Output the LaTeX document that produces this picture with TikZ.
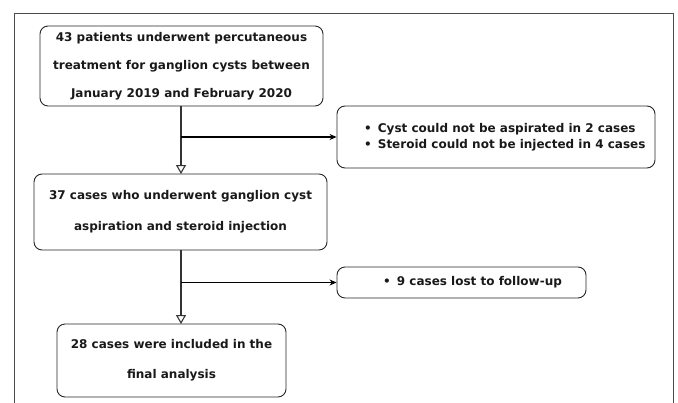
\documentclass[tikz,border=0pt]{standalone}
\usepackage{fontspec}
\setmainfont{DejaVu Sans}
\usetikzlibrary{arrows.meta}
\begin{document}
\begin{tikzpicture}[x=1pt,y=-1pt,
  box/.style={draw=black!85, line width=0.9pt, rounded corners=8pt, inner sep=0pt},
  txt/.style={font=\bfseries\fontsize{12}{28}\selectfont, align=center, inner sep=0pt, text=black!90},
  ltxt/.style={font=\bfseries\fontsize{12}{16}\selectfont, align=left, inner sep=0pt, text=black!90},
  flow/.style={draw=black!80, line width=1.1pt, -{Triangle[open, length=9pt, width=10pt]}},
  side/.style={draw=black, line width=1.1pt, -{Stealth[length=7pt, width=6pt]}}]
\useasboundingbox (0,0) rectangle (678,402);
% outer frame (open at the bottom)
\draw[black!70, line width=0.9pt] (14,410) -- (14,13) -- (673,13) -- (673,410);
% boxes
\node[box, minimum width=283pt, minimum height=80pt] (b1) at (181.5,66) {};
\node[txt] (t1) at (b1.center) {43 patients underwent percutaneous\\treatment for ganglion cysts between\\January 2019 and February 2020};
\node[box, minimum width=293pt, minimum height=76pt] (b2) at (180.5,212) {};
\node[txt, font=\bfseries\fontsize{12}{31}\selectfont] (t2) at (b2.center) {37 cases who underwent ganglion cyst\\aspiration and steroid injection};
\node[box, minimum width=229pt, minimum height=73pt] (b3) at (171.5,360.5) {};
\node[txt, font=\bfseries\fontsize{12}{30}\selectfont] (t3) at (b3.center) {28 cases were included in the\\final analysis};
\node[box, minimum width=318pt, minimum height=62pt] (r1) at (496,137) {};
\node[ltxt, anchor=west] (rt1) at (364,137) {•\hspace{6pt}Cyst could not be aspirated in 2 cases\\•\hspace{6pt}Steroid could not be injected in 4 cases};
\node[box, minimum width=249pt, minimum height=31pt] (r2) at (461.5,282.5) {};
\node[ltxt, anchor=west] (rt2) at (383,282.5) {•\hspace{6pt}9 cases lost to follow-up};
% connectors
\coordinate (j1) at (181,137);
\coordinate (j2) at (181,282.5);
\draw[flow] (181,106) -- (181,174);
\draw[side] (j1) -- (r1.west);
\draw[flow] (181,250) -- (181,324);
\draw[side] (j2) -- (r2.west);
\end{tikzpicture}
\end{document}
